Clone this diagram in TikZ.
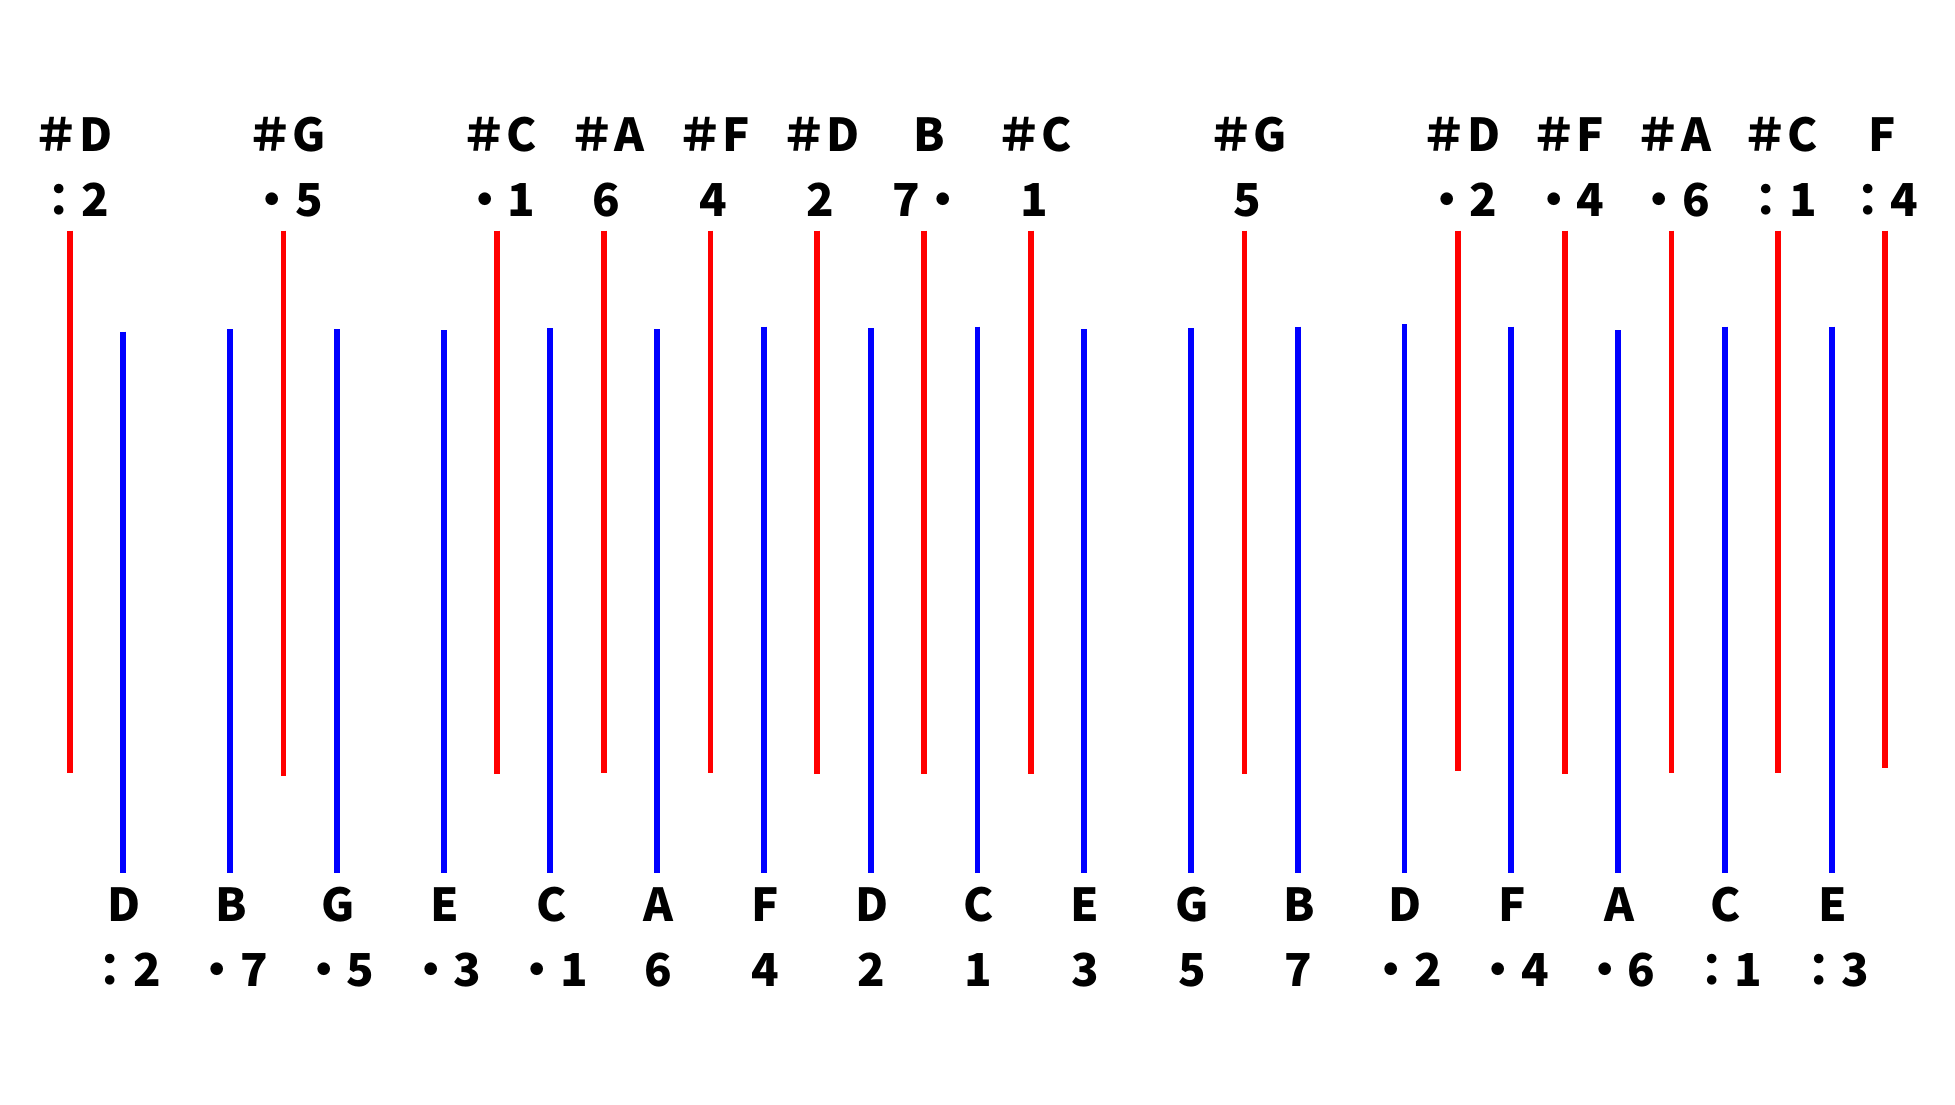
\documentclass[tikz,border=0pt]{standalone}
\usepackage{fontspec}
\newfontfamily\cjk{Noto Sans CJK TC}
\newcommand\jdot{\makebox[1em][c]{•}}
\newcommand\jcol{\makebox[1em][c]{：}}
\begin{document}
\begin{tikzpicture}[x=0.5pt,y=-0.5pt,
  redline/.style={draw=red, line width=2.85pt},
  blueline/.style={draw=blue, line width=2.95pt},
  lbl/.style={font=\cjk\bfseries\fontsize{22.7}{27}\selectfont, anchor=base, inner sep=0pt, text=black}]
\fill[white] (0,0) rectangle (1955,1104);
\useasboundingbox (0,0) rectangle (1955,1104);
% red (upper) lines with top labels
\foreach \x/\yb/\dx/\l/\n [count=\i] in {
  70.0/773/3/＃D/\jcol 2,
  283.5/775.5/3/＃G/\jdot 5,
  497.1/774/2/＃C/\jdot 1,
  603.8/773/3/＃A/6,
  710.6/773/3/＃F/4,
  817.3/774/3/＃D/2,
  924.1/774/5/B/7\jdot,
  1030.9/774/3/＃C/1,
  1244.4/774/3/＃G/5,
  1457.9/770.5/3/＃D/\jdot 2,
  1564.7/774/3/＃F/\jdot 4,
  1671.4/773/2/＃A/\jdot 6,
  1778.2/773/2/＃C/\jcol 1,
  1884.9/768/-3/F/\jcol 4}{
  \draw[redline] (\x,230.7) -- (\x,\yb);
  \node[lbl] (rl\i) at (\x+\dx,151) {\l};
  \node[lbl] (rn\i) at (\x+\dx,216.5) {\n};
}
% blue (lower) lines with bottom labels
\foreach \x/\yt/\l/\n [count=\i] in {
  123.4/331.7/D/\jcol 2,
  230.2/329/B/\jdot 7,
  336.9/329/G/\jdot 5,
  443.7/330.4/E/\jdot 3,
  550.4/328/C/\jdot 1,
  657.2/329/A/6,
  764.0/326.7/F/4,
  870.7/328/D/2,
  977.5/326.7/C/1,
  1084.2/329/E/3,
  1191.0/328/G/5,
  1297.8/326.7/B/7,
  1404.5/324/D/\jdot 2,
  1511.3/326.7/F/\jdot 4,
  1618.0/330.4/A/\jdot 6,
  1724.8/326.7/C/\jcol 1,
  1831.6/326.7/E/\jcol 3}{
  \draw[blueline] (\x,\yt) -- (\x,873);
  \node[lbl] (bl\i) at (\x+1,921.5) {\l};
  \node[lbl] (bn\i) at (\x+1,986) {\n};
}
\end{tikzpicture}
\end{document}
